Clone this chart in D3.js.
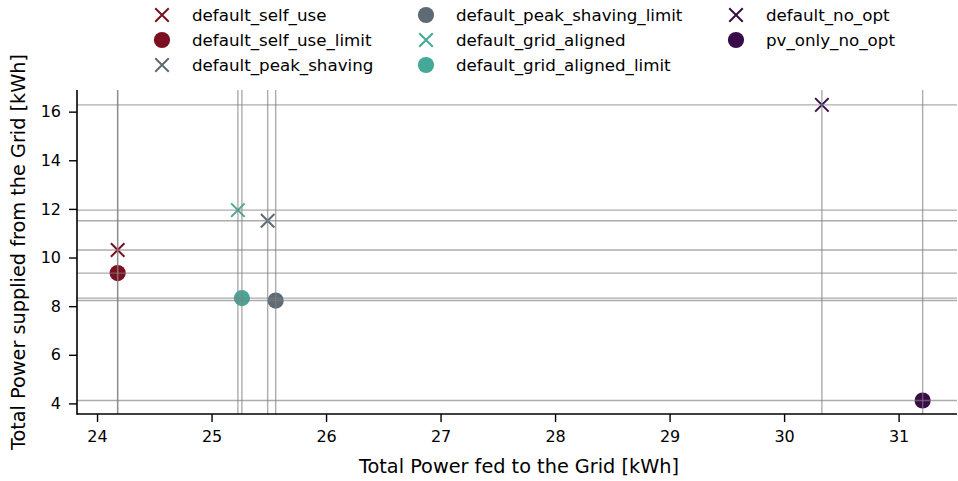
<!DOCTYPE html>
<head>
<meta charset="UTF-8">
<title>Power fed vs supplied</title>
<script src="https://cdnjs.cloudflare.com/ajax/libs/d3/7.8.5/d3.min.js"></script>
<style>
body{margin:0;background:#fff;}
text{font-family:"DejaVu Sans",sans-serif;fill:#000;}
.tick text{font-size:16px;}
.axis path,.axis line{stroke:#000;}
.legend text{font-size:16.7px;}
.label{font-size:19.3px;}
</style>
</head>
<body>
<div id="chart"></div>
<script>
var width=958, height=481;

// scenario names, colours, marker kind
var names=["default_self_use","default_self_use_limit","default_peak_shaving","default_peak_shaving_limit",
  "default_grid_aligned","default_grid_aligned_limit","default_no_opt","pv_only_no_opt"];
var colors=["#7a1020","#7a1020","#5e6b75","#5e6b75","#45a998","#45a998","#3a0c47","#3a0c47"];
var shapes=["x","o","x","o","x","o","x","o"];
// values
var fedToGrid=[24.18,24.18,25.49,25.56,25.23,25.265,30.33,31.21];
var fromGrid=[10.31,9.36,11.51,8.23,11.95,8.33,16.28,4.12];
var xTicks=[24,25,26,27,28,29,30,31];
var yTicks=[4,6,8,10,12,14,16];

var m={left:77,right:957,top:90,bottom:414};
var x=d3.scaleLinear().domain([23.825,31.51]).range([m.left,m.right]);
var y=d3.scaleLinear().domain([3.565,16.89]).range([m.bottom,m.top]);

var svg=d3.select("#chart").append("svg").attr("width",width).attr("height",height);

var data=names.map(function(n,i){return {name:n,color:colors[i],shape:shapes[i],x:fedToGrid[i],y:fromGrid[i]};});

// markers
function drawMarker(g,d,sz){
  if(d.shape=="o"){
    g.append("circle").attr("r",sz*0.6).attr("fill",d.color);
  } else {
    var h=sz*0.5;
    g.append("path").attr("d","M"+(-h)+","+(-h)+"L"+h+","+h+"M"+(-h)+","+h+"L"+h+","+(-h))
      .attr("stroke",d.color).attr("stroke-width",2).attr("fill","none");
  }
}
data.forEach(function(d){
  var g=svg.append("g").attr("transform","translate("+x(d.x)+","+y(d.y)+")");
  drawMarker(g,d,13.5);
});

// reference lines through each point, drawn on top
var lines=svg.append("g").attr("stroke","#808080").attr("stroke-opacity",0.65).attr("stroke-width",1.4);
lines.selectAll(".vl").data(data).enter().append("line")
  .attr("x1",function(d){return x(d.x);}).attr("x2",function(d){return x(d.x);})
  .attr("y1",m.top).attr("y2",m.bottom);
lines.selectAll(".hl").data(data).enter().append("line")
  .attr("x1",m.left).attr("x2",m.right)
  .attr("y1",function(d){return y(d.y);}).attr("y2",function(d){return y(d.y);});

// axes
svg.append("g").attr("class","axis").attr("transform","translate(0,"+m.bottom+")")
  .call(d3.axisBottom(x).tickValues(xTicks).tickSize(8).tickPadding(9).tickFormat(d3.format("d")));
svg.append("g").attr("class","axis").attr("transform","translate("+m.left+",0)")
  .call(d3.axisLeft(y).tickValues(yTicks).tickSize(8).tickPadding(8).tickFormat(d3.format("d")));
svg.selectAll(".axis .domain").remove();
svg.selectAll(".axis .tick line").attr("stroke-width",1.4);
svg.selectAll(".axis text").attr("fill","#000").style("font-family","DejaVu Sans");
svg.append("line").attr("x1",m.left).attr("x2",m.left).attr("y1",m.top).attr("y2",m.bottom+0.7).attr("stroke","#000").attr("stroke-width",1.6);
svg.append("line").attr("x1",m.left).attr("x2",m.right).attr("y1",m.bottom).attr("y2",m.bottom).attr("stroke","#000").attr("stroke-width",1.6);

svg.append("text").attr("class","label").attr("x",(m.left+m.right)/2+2).attr("y",473)
  .attr("text-anchor","middle").text("Total Power fed to the Grid [kWh]");
svg.append("text").attr("class","label").attr("transform","translate(25,"+((m.top+m.bottom)/2)+") rotate(-90)")
  .attr("text-anchor","middle").text("Total Power supplied from the Grid [kWh]");

// legend, 3 columns filled down
var colX=[162,426,736], rowY=[15,40,65];
var leg=svg.append("g").attr("class","legend");
data.forEach(function(d,i){
  var c=Math.floor(i/3), r=i%3;
  var g=leg.append("g").attr("transform","translate("+colX[c]+","+rowY[r]+")");
  drawMarker(g,d,13.5);
  g.append("text").attr("x",30).attr("y",6).text(d.name);
});
</script>
</body>
</html>
